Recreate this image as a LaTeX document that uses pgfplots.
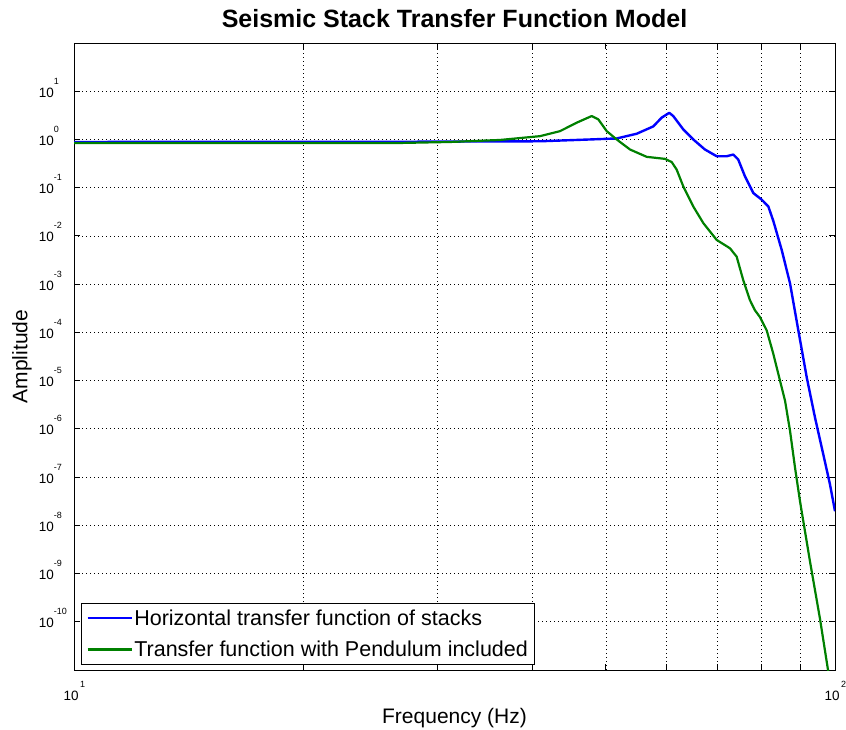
\documentclass[border=0pt]{standalone}
\usepackage{fontspec}
\setmainfont{Liberation Sans}
\usepackage{pgfplots}
\pgfplotsset{compat=1.18}
\definecolor{mblue}{RGB}{0,0,255}
\definecolor{mgreen}{RGB}{0,128,0}
\begin{document}
\begin{tikzpicture}
\begin{axis}[
  scale only axis, width=761pt, height=627pt,
  xmode=log, ymode=log, log basis x=10, log basis y=10,
  xmin=10, xmax=100, ymin=1e-11, ymax=1e2,
  xtick={10,100}, minor xtick={20,30,40,50,60,70,80,90},
  ytick={1e-10,1e-9,1e-8,1e-7,1e-6,1e-5,1e-4,1e-3,1e-2,1e-1,1,10},
  yminorticks=false,
  tick pos=both, tick align=inside,
  major tick length=6pt, minor tick length=6pt,
  tick style={black, line width=0.9pt},
  xmajorgrids, xminorgrids, ymajorgrids,
  major grid style={black, line width=0.7pt, dash pattern=on 1pt off 3pt},
  minor grid style={black, line width=0.7pt, dash pattern=on 1pt off 3pt},
  axis line style={black, line width=0.9pt},
  yticklabel={\pgfmathtruncatemacro\e{round(\tick)}\fontsize{13.5}{13.5}\selectfont 10\rlap{\raisebox{13pt}{\fontsize{9}{9}\selectfont\e}}},
  xticklabel={\pgfmathtruncatemacro\e{round(\tick)}\fontsize{13.5}{13.5}\selectfont 10\rlap{\raisebox{13pt}{\fontsize{9}{9}\selectfont\,\e}}},
  yticklabel style={anchor=base east, inner sep=0pt, xshift=-20pt, yshift=-6pt},
  xticklabel style={anchor=base, inner sep=0pt, yshift=-30pt, xshift=-3pt},
  title={Seismic Stack Transfer Function Model},
  title style={font=\fontsize{25}{25}\selectfont\bfseries, at={([yshift=18pt]axis description cs:0.5,1)}, anchor=center},
  xlabel={Frequency (Hz)},
  xlabel style={font=\fontsize{21}{21}\selectfont, at={([yshift=-48pt]axis description cs:0.5,0)}, anchor=center},
  ylabel={Amplitude},
  ylabel style={font=\fontsize{21}{21}\selectfont, at={([xshift=-52pt]axis description cs:0,0.5)}, anchor=center, rotate=0},
  legend style={at={(axis description cs:0.0092,0.008)}, anchor=south west, draw=black, line width=0.8pt, fill=white,
    font=\fontsize{21.5}{21.5}\selectfont, inner xsep=5pt, inner ysep=5pt, row sep=11.5pt,
    nodes={inner sep=1.5pt}},
  legend cell align=left,
  legend image code/.code={\draw[#1] (0pt,0pt) -- (44pt,0pt);},
]
\addplot[mblue, line width=2.4pt, line join=round] coordinates {
(10,0.887) (26.82,0.896) (40.97,0.917) (47.65,1.0) (51.66,1.049) (54.88,1.314)
(57.71,1.866) (59.19,2.832) (60.57,3.566) (61.30,3.058) (63.19,1.616) (65.13,1.0)
(67.47,0.619) (69.91,0.449) (72.06,0.449) (73.52,0.487) (74.63,0.383) (76.16,0.172)
(78.10,0.0776) (80.12,0.0562) (81.73,0.0408) (82.97,0.0205) (85.11,0.00511)
(87.28,0.001035) (89.50,1.10e-4) (91.80,1.17e-5) (94.12,1.72e-6) (96.51,2.97e-7)
(98.49,7.05e-8) (100,1.96e-8)
};
\addlegendentry{Horizontal transfer function of stacks}
\addplot[mgreen, line width=2.2pt, line join=round] coordinates {
(10,0.846) (26.82,0.846) (31.20,0.887) (36.29,0.976) (40.97,1.172) (43.52,1.489)
(45.77,2.228) (47.89,3.058) (48.86,2.610) (50.12,1.489) (51.66,1.0) (53.78,0.619)
(56.57,0.436) (59.78,0.396) (61.02,0.340) (61.94,0.237) (63.19,0.1065) (65.13,0.0408)
(67.14,0.0184) (69.91,0.00825) (72.78,0.00554) (74.27,0.00371) (75.77,0.00121)
(77.33,4.64e-4) (78.51,2.87e-4) (79.70,2.08e-4) (81.33,1.10e-4) (82.97,3.60e-5)
(84.67,1.0e-5) (85.97,3.83e-6) (87.28,9.08e-7) (88.61,1.56e-7) (89.95,3.16e-8)
(92.71,1.78e-9) (95.56,1.15e-10) (97.91,1.0e-11) (100,1.1e-12)
};
\addlegendentry{Transfer function with Pendulum included}
\end{axis}
\pgfresetboundingbox
\path[use as bounding box] ([shift={(-74pt,-60pt)}]current axis.south west) rectangle ([shift={(11pt,43pt)}]current axis.north east);
\end{tikzpicture}
\end{document}
